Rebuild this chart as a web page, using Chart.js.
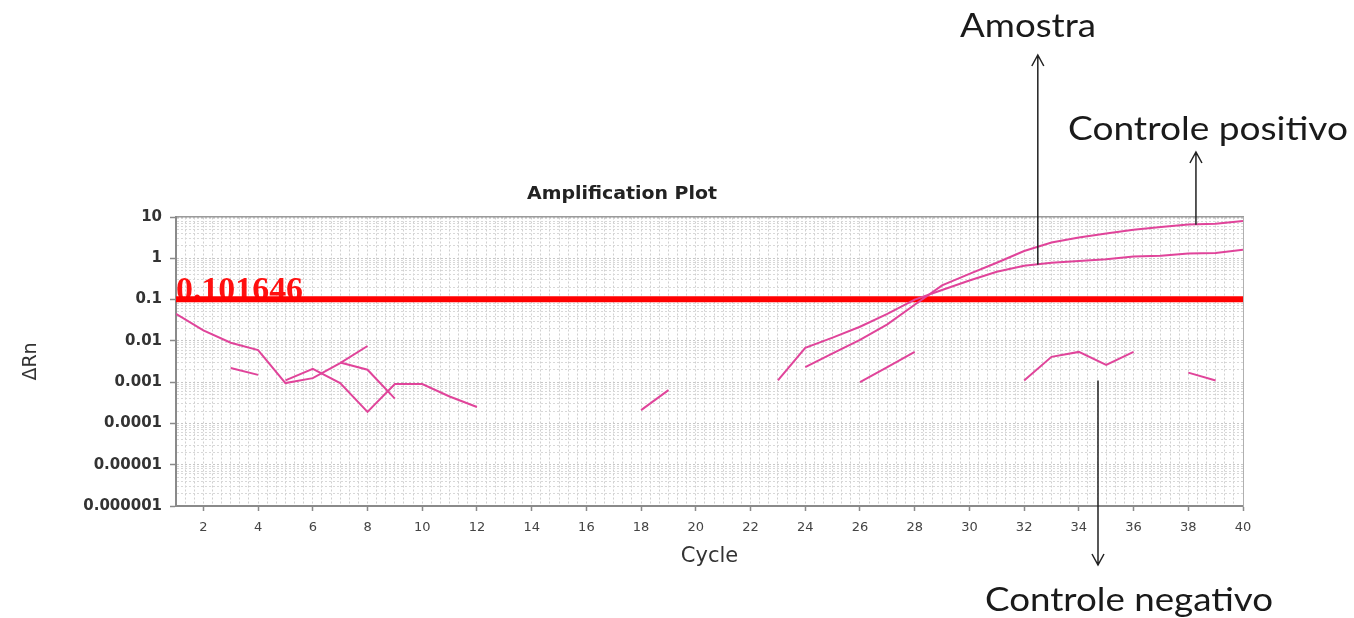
<!DOCTYPE html>
<html>
<head>
<meta charset="utf-8">
<script src="https://cdn.jsdelivr.net/npm/chart.js@4.4.1/dist/chart.umd.min.js"></script>
<style>
html,body{margin:0;padding:0;background:#fff;}
#wrap{position:relative;width:1354px;height:618px;}
</style>
</head>
<body>
<div id="wrap"><canvas id="c"></canvas></div>
<script>
// ---------- DATA ----------
const cycles = [1,2,3,4,5,6,7,8,9,10,11,12,13,14,15,16,17,18,19,20,
                21,22,23,24,25,26,27,28,29,30,31,32,33,34,35,36,37,38,39,40];
const xTickLabels = ['2','4','6','8','10','12','14','16','18','20',
                     '22','24','26','28','30','32','34','36','38','40'];
const yTickLabels = ['10','1','0.1','0.01','0.001','0.0001','0.00001','0.000001'];
const threshold = 0.101646;
const thresholdLabel = '0.101646';
const N = null;

// Amostra (sample)
const amostra = [N,N,N,N,N,N,N,N,N,N, N,N,N,N,N,N,N,N,N,N,
  N,N,0.0011,0.0068,0.012,0.022,0.045,0.1,0.17,0.29,
  0.47,0.66,0.78,0.86,0.95,1.1,1.15,1.3,1.35,1.6];
// Controle positivo
const controlePositivo = [N,N,N,N,N,N,N,N,N,N, N,N,N,N,N,N,N,N,N,N,
  N,N,N,0.0023,0.005,0.0105,0.025,0.075,0.22,0.42,
  0.78,1.5,2.4,3.2,4.0,4.9,5.7,6.6,6.9,8.0];
// Controle negativo
const controleNegativo = [N,N,N,N,N,N,N,N,N,N, N,N,N,N,N,N,N,N,N,N,
  N,N,N,N,N,N,N,N,N,N,
  N,0.0011,0.0041,0.0054,0.0026,0.0054,N,0.0017,0.0011,N];
// other wells (background noise)
const poco1 = [0.045,0.018,0.009,0.006,0.00095,0.00125,0.0029,0.0075,N,N,
  N,N,N,N,N,N,N,N,N,N, N,N,N,N,N,N,N,N,N,N, N,N,N,N,N,N,N,N,N,N];
const poco2 = [N,N,N,N,0.0011,0.0021,0.00095,0.00019,0.0009,0.0009,
  0.00045,0.00025,N,N,N,N,N,N,N,N, N,N,N,N,N,N,N,N,N,N, N,N,N,N,N,N,N,N,N,N];
const poco3 = [N,N,0.0022,0.0015,N,N,0.003,0.002,0.0004,N,
  N,N,N,N,N,N,N,0.00021,0.00064,N, N,N,N,N,N,0.001,0.0023,0.0054,N,N,
  N,N,N,N,N,N,N,N,N,N];
const thresholdLine = cycles.map(() => threshold);

// ---------- STYLE ----------
const PINK = '#e0449a';
const TEXT_FONT = '"Lato","Open Sans",sans-serif';

function lineDs(label, data) {
  return { label, data, borderColor: PINK, borderWidth: 2, pointRadius: 0,
           fill: false, tension: 0, spanGaps: false, order: 1 };
}

function arrow(ctx, x, y1, y2) { // tip at y2
  ctx.beginPath();
  ctx.moveTo(x, y1); ctx.lineTo(x, y2);
  const d = y2 < y1 ? 1 : -1;
  ctx.moveTo(x - 6, y2 + d * 11); ctx.lineTo(x, y2); ctx.lineTo(x + 6, y2 + d * 11);
  ctx.stroke();
}

// draw text stretched horizontally to a given width (the reference is stretched)
function fitText(ctx, text, x, y, width) {
  const w = ctx.measureText(text).width;
  ctx.save();
  ctx.translate(x, y);
  ctx.scale(width / w, 1);
  ctx.fillText(text, 0, 0);
  ctx.restore();
}

const annotations = {
  id: 'annotations',
  beforeDatasetsDraw(chart) {
    const { ctx, scales: { x, y } } = chart;
    ctx.save();
    ctx.font = 'bold 33px "Liberation Serif", serif';
    ctx.fillStyle = '#ff1010';
    ctx.textAlign = 'left';
    ctx.textBaseline = 'alphabetic';
    fitText(ctx, thresholdLabel, x.getPixelForValue(1), y.getPixelForValue(threshold) + 1, 127);
    ctx.restore();
  },
  afterDraw(chart) {
    const { ctx, scales: { x, y } } = chart;
    ctx.save();
    // title
    ctx.font = 'bold 17px "DejaVu Sans", sans-serif';
    ctx.fillStyle = '#222';
    ctx.textAlign = 'left';
    ctx.textBaseline = 'middle';
    fitText(ctx, 'Amplification Plot', 527, 195, 190);

    // annotation labels
    ctx.font = '32px ' + TEXT_FONT;
    ctx.fillStyle = '#1a1a1a';
    ctx.textAlign = 'left';
    ctx.textBaseline = 'alphabetic';
    fitText(ctx, 'Amostra', 960, 37, 136);
    fitText(ctx, 'Controle positivo', 1068, 140, 280);
    fitText(ctx, 'Controle negativo', 985, 611, 288);

    // arrows anchored to the curves through the scales
    ctx.strokeStyle = '#222';
    ctx.lineWidth = 1.5;
    const xa = x.getPixelForValue(32.5);
    arrow(ctx, xa, y.getPixelForValue(0.7), 55);
    const xp = x.getPixelForValue(38.28);
    arrow(ctx, xp, y.getPixelForValue(6.5), 152);
    const xn = x.getPixelForValue(34.7);
    arrow(ctx, xn, y.getPixelForValue(0.0011), 565);
    ctx.restore();
  }
};

const isDecade = v => Math.abs(Math.log10(v) - Math.round(Math.log10(v))) < 1e-6;

new Chart(document.getElementById('c'), {
  type: 'line',
  data: {
    labels: cycles,
    datasets: [
      { label: 'Threshold', data: thresholdLine, borderColor: '#ff0000', borderWidth: 6,
        pointRadius: 0, fill: false, order: 10 },
      lineDs('Amostra', amostra),
      lineDs('Controle positivo', controlePositivo),
      lineDs('Controle negativo', controleNegativo),
      lineDs('Poço 1', poco1),
      lineDs('Poço 2', poco2),
      lineDs('Poço 3', poco3)
    ]
  },
  options: {
    responsive: true,
    maintainAspectRatio: false,
    animation: false,
    layout: { padding: 0 },
    plugins: { legend: { display: false }, tooltip: { enabled: false }, title: { display: false } },
    scales: {
      x: {
        type: 'linear', position: 'bottom', min: 1, max: 40,
        afterBuildTicks: a => { a.ticks = xTickLabels.map(l => ({ value: +l })); },
        afterFit: a => { a.height = 112; },
        ticks: { autoSkip: false, maxRotation: 0, padding: 9, color: '#444',
                 font: { family: '"DejaVu Sans"', size: 13 },
                 callback: v => String(v) },
        grid: { drawOnChartArea: false, drawTicks: true, tickLength: 5, tickColor: '#8a8a8a', tickWidth: 1.5 },
        border: { display: true, color: '#8a8a8a', width: 2 },
        title: { display: true, text: 'Cycle', color: '#333',
                 font: { family: '"DejaVu Sans"', size: 21 }, padding: { top: 0, bottom: 49 } }
      },
      xg: {
        type: 'linear', position: 'top', min: 1, max: 40,
        afterBuildTicks: a => { const t = []; for (let k = 0; k <= 117; k++) t.push({ value: 1 + k / 3 }); a.ticks = t; },
        afterFit: a => { a.height = 217; },
        ticks: { display: false },
        grid: { drawOnChartArea: true, drawTicks: false, color: '#d0d0d0', lineWidth: 1 },
        border: { display: true, color: '#9a9a9a', width: 1.5, dash: [2, 2] }
      },
      y: {
        type: 'logarithmic', position: 'left', min: 0.000001, max: 10,
        afterBuildTicks: a => {
          const t = [];
          for (let e = -6; e <= 1; e++) for (let m = 1; m <= 9; m++) {
            const v = +(m * Math.pow(10, e)).toPrecision(6);
            if (v <= 10) t.push({ value: v, major: m === 1 });
          }
          a.ticks = t;
        },
        afterFit: a => { a.width = 176; },
        ticks: { autoSkip: false, padding: 8, color: '#333',
                 font: { family: '"DejaVu Sans"', size: 15, weight: 'bold' },
                 callback: v => { const l = yTickLabels.find(s => Math.abs(Math.log10(+s) - Math.log10(v)) < 1e-6); return l === undefined ? '' : l; } },
        grid: { drawOnChartArea: true, drawTicks: true, tickLength: 6,
                color: c => (c.tick && isDecade(c.tick.value)) ? '#c8c8c8' : '#d8d8d8',
                tickColor: c => (c.tick && isDecade(c.tick.value)) ? '#8a8a8a' : 'rgba(0,0,0,0)',
                tickWidth: 1.5 },
        border: { display: true, color: '#8a8a8a', width: 2, dash: [2, 2] },
        title: { display: true, text: 'ΔRn', color: '#333',
                 font: { family: '"DejaVu Sans"', size: 19 }, padding: { top: 20, bottom: 0 } }
      },
      yr: {
        type: 'linear', position: 'right', min: 0, max: 1,
        afterFit: a => { a.width = 111; },
        ticks: { display: false },
        grid: { drawOnChartArea: false, drawTicks: false },
        border: { display: true, color: '#b0b0b0', width: 1 }
      }
    }
  },
  plugins: [annotations]
});
</script>
</body>
</html>
